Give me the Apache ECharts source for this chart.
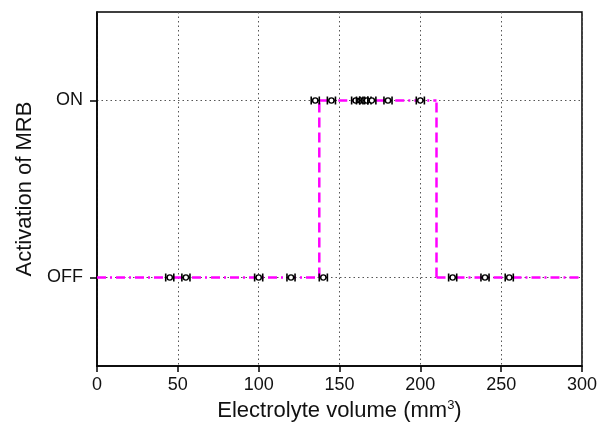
<!DOCTYPE html>
<html>
<head>
<meta charset="utf-8">
<script src="https://cdn.jsdelivr.net/npm/echarts@6/dist/echarts.min.js"></script>
<style>
  html, body { margin: 0; padding: 0; background: #fff; }
  #chart { width: 611px; height: 427px; }
</style>
</head>
<body>
<div id="chart"></div>
<script>
// Measured electrolyte volumes (mm^3) and the MRB state observed at each
const offVolumes = [45, 55, 100, 120, 140, 220, 240, 255];
const onVolumes = [135, 145, 160, 163, 165, 167, 170, 180, 200];
const xErr = 2.5;                 // half-width of the horizontal error bars
// Switching thresholds of the fitted step response
const switchOn = 137.5;
const switchOff = 210;
const xMax = 300;
// State levels and their tick labels
const stateValues = [0, 1];
const stateLabels = ['OFF', 'ON'];
const xTicks = [0, 50, 100, 150, 200, 250, 300];

const OFF = stateValues[0], ON = stateValues[1];

const points = offVolumes.map(v => [v, OFF, xErr])
  .concat(onVolumes.map(v => [v, ON, xErr]));

const magenta = '#ff00ff';
const horizDash = [9, 4, 2, 4];
const vertDash = [10, 5];
const font = 'Liberation Sans';

function lineSeries(data, dash) {
  return {
    type: 'line',
    data: data,
    symbol: 'none',
    silent: true,
    z: 2,
    lineStyle: { color: magenta, width: 2.5, type: dash }
  };
}

const option = {
  animation: false,
  backgroundColor: '#fff',
  grid: {
    left: 97, right: 29, top: 12, bottom: 61,
    show: true, borderColor: '#000', borderWidth: 1.5,
    backgroundColor: 'transparent'
  },
  xAxis: {
    type: 'value',
    min: xTicks[0], max: xTicks[xTicks.length - 1], interval: 50,
    name: 'Electrolyte volume (mm{sup|3})',
    nameLocation: 'middle',
    nameGap: 30,
    nameTextStyle: {
      fontFamily: font, fontSize: 22, color: '#111',
      rich: { sup: { fontSize: 13, verticalAlign: 'top', padding: [0, 0, 11, 0], fontFamily: font, color: '#111' } }
    },
    axisLine: { show: true, onZero: false, lineStyle: { color: '#000', width: 1.5 } },
    axisTick: { show: true, inside: false, length: 6, lineStyle: { color: '#000', width: 1.5 } },
    axisLabel: { fontFamily: font, fontSize: 18, color: '#111', margin: 10 },
    splitLine: { show: true, lineStyle: { color: '#555', width: 1, type: [1.5, 3] } }
  },
  yAxis: {
    type: 'value',
    min: -0.5, max: 1.5,
    name: 'Activation of MRB',
    nameLocation: 'middle',
    nameGap: 61,
    nameTextStyle: { fontFamily: font, fontSize: 22, color: '#111' },
    axisLine: { show: true, onZero: false, lineStyle: { color: '#000', width: 1.5 } },
    axisTick: { show: true, inside: false, length: 7, customValues: stateValues, lineStyle: { color: '#000', width: 1.5 } },
    axisLabel: {
      fontFamily: font, fontSize: 18, color: '#111', margin: 14,
      customValues: stateValues,
      formatter: v => stateLabels[stateValues.indexOf(v)] || ''
    },
    splitLine: { show: true, lineStyle: { color: '#555', width: 1, type: [1.5, 3] } }
  },
  series: [
    // fitted step response: horizontal levels dash-dot, transitions dashed
    lineSeries([[0, OFF], [switchOn, OFF]], horizDash),
    lineSeries([[switchOn, ON], [switchOff, ON]], horizDash),
    lineSeries([[switchOff, OFF], [xMax, OFF]], horizDash),
    lineSeries([[switchOn, OFF], [switchOn, ON]], vertDash),
    lineSeries([[switchOff, OFF], [switchOff, ON]], vertDash),
    {
      // measurements with horizontal error bars
      type: 'custom',
      z: 5,
      data: points,
      renderItem: function (params, api) {
        const x = api.value(0), y = api.value(1), e = api.value(2);
        const c = api.coord([x, y]);
        const l = api.coord([x - e, y]);
        const r = api.coord([x + e, y]);
        const cap = 4;
        const stroke = { stroke: '#000', lineWidth: 1.6 };
        return {
          type: 'group',
          children: [
            { type: 'line', shape: { x1: l[0], y1: c[1], x2: r[0], y2: c[1] }, style: stroke },
            { type: 'line', shape: { x1: l[0], y1: c[1] - cap, x2: l[0], y2: c[1] + cap }, style: stroke },
            { type: 'line', shape: { x1: r[0], y1: c[1] - cap, x2: r[0], y2: c[1] + cap }, style: stroke },
            { type: 'circle', shape: { cx: c[0], cy: c[1], r: 2.6 }, style: { fill: '#fff', stroke: '#000', lineWidth: 1.4 } }
          ]
        };
      }
    }
  ]
};

const chart = echarts.init(document.getElementById('chart'), null, { renderer: 'canvas' });
chart.setOption(option);
</script>
</body>
</html>
